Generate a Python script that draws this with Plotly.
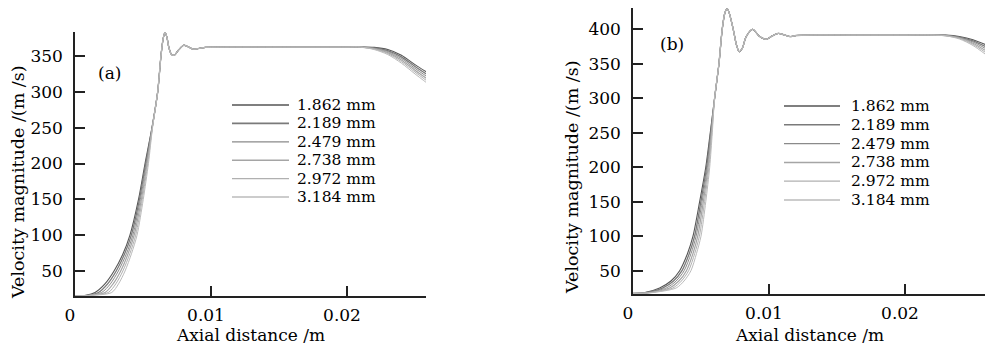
import plotly.graph_objects as go

# ---------------- data ----------------
labels = ["1.862 mm", "2.189 mm", "2.479 mm", "2.738 mm", "2.972 mm", "3.184 mm"]

# Panel (a): rising part, x position of each series at given velocity levels
a_rise_y = [15, 16, 20, 32, 50, 74, 100, 150, 200, 250]
a_rise_x = [
    [0, 0.00081, 0.00147, 0.00220, 0.00287, 0.00353, 0.00404, 0.00467, 0.00515, 0.00566],
    [0, 0.00088, 0.00172, 0.00240, 0.00303, 0.00365, 0.00414, 0.00474, 0.00520, 0.00567],
    [0, 0.00096, 0.00196, 0.00260, 0.00319, 0.00378, 0.00425, 0.00481, 0.00525, 0.00568],
    [0, 0.00103, 0.00221, 0.00280, 0.00336, 0.00390, 0.00435, 0.00488, 0.00530, 0.00568],
    [0, 0.00111, 0.00245, 0.00300, 0.00352, 0.00403, 0.00446, 0.00495, 0.00535, 0.00569],
    [0, 0.00118, 0.00270, 0.00320, 0.00368, 0.00415, 0.00456, 0.00502, 0.00540, 0.00570],
]
# Panel (a): common part (all series overlap)
a_core_x = [0.00608, 0.00632, 0.00648, 0.00662, 0.00676, 0.0069, 0.0071, 0.0073,
            0.0076, 0.0080, 0.0083, 0.0087, 0.0091, 0.0096, 0.011, 0.015, 0.020, 0.021]
a_core_y = [300, 350, 374, 383, 376, 362, 352, 351,
            358, 365, 363, 359.5, 360.5, 362, 362.5, 362.5, 362.5, 362.5]
# Panel (a): outlet tail
a_tail_x = [0.022, 0.023, 0.024, 0.025, 0.0259]
a_tail_y = [
    [362.0, 359.0, 351.0, 338.0, 327.0],
    [361.4, 357.6, 348.8, 335.4, 324.0],
    [360.8, 356.2, 346.6, 332.8, 321.0],
    [360.2, 354.8, 344.4, 330.2, 318.0],
    [359.6, 353.4, 342.2, 327.6, 315.0],
    [359.0, 352.0, 340.0, 325.0, 312.0],
]

# Panel (b)
b_rise_y = [17, 18, 25, 35, 50, 75, 100, 150, 200, 250]
b_rise_x = [
    [0, 0.00081, 0.00196, 0.00279, 0.00343, 0.00401, 0.00441, 0.00490, 0.00535, 0.00568],
    [0, 0.00091, 0.00220, 0.00298, 0.00360, 0.00414, 0.00453, 0.00499, 0.00541, 0.00571],
    [0, 0.00101, 0.00245, 0.00317, 0.00376, 0.00427, 0.00464, 0.00508, 0.00547, 0.00574],
    [0, 0.00112, 0.00269, 0.00337, 0.00393, 0.00441, 0.00476, 0.00517, 0.00552, 0.00577],
    [0, 0.00122, 0.00294, 0.00356, 0.00409, 0.00454, 0.00488, 0.00526, 0.00558, 0.00580],
    [0, 0.00132, 0.00318, 0.00375, 0.00426, 0.00467, 0.00500, 0.00535, 0.00564, 0.00583],
]
b_core_x = [0.0060, 0.00632, 0.00656, 0.00676, 0.00693, 0.0071, 0.00738, 0.0076, 0.00781,
            0.00805, 0.00831, 0.0088, 0.00929, 0.00978, 0.0102, 0.01068, 0.0111, 0.01154,
            0.012, 0.013, 0.016, 0.020, 0.022]
b_core_y = [300, 350, 400, 424, 430, 422, 399, 378, 367.5,
            373, 389, 400, 390, 385.5, 390, 394, 392, 389.5,
            391, 391.7, 391.7, 391.7, 391.7]
b_tail_x = [0.023, 0.024, 0.025, 0.0259]
b_tail_y = [
    [391.5, 389.5, 385.0, 378.0],
    [391.3, 388.8, 383.3, 375.2],
    [391.1, 388.1, 381.6, 372.4],
    [390.9, 387.4, 379.9, 369.6],
    [390.7, 386.7, 378.2, 366.8],
    [390.5, 386.0, 376.5, 364.0],
]

x_ticks = [0, 0.01, 0.02]
x_tick_text = ["0", "0.01", "0.02"]
a_y_ticks = [50, 100, 150, 200, 250, 300, 350]
b_y_ticks = [50, 100, 150, 200, 250, 300, 350, 400]

# ---------------- style ----------------
W, H = 985, 349
FONT = "DejaVu Serif"
TXT = "#000000"
colors = ["#555555", "#7a7a7a", "#8a8a8a", "#a5a5a5", "#b0b0b0", "#bbbbbb"]
widths = [1.1, 1.3, 1.0, 1.2, 1.0, 1.0]


def px_x(p):
    return p / W


def px_y(p):
    return 1 - p / H


fig = go.Figure()

for i in range(6):
    xs = a_rise_x[i] + a_core_x + a_tail_x
    ys = a_rise_y + a_core_y + a_tail_y[i]
    fig.add_trace(go.Scatter(x=xs, y=ys, mode="lines", name=labels[i],
                             line=dict(color=colors[i], width=widths[i], shape="spline", smoothing=0.8),
                             xaxis="x", yaxis="y", showlegend=False))
for i in range(6):
    xs = b_rise_x[i] + b_core_x + b_tail_x
    ys = b_rise_y + b_core_y + b_tail_y[i]
    fig.add_trace(go.Scatter(x=xs, y=ys, mode="lines", name=labels[i],
                             line=dict(color=colors[i], width=widths[i], shape="spline", smoothing=0.8),
                             xaxis="x2", yaxis="y2", showlegend=False))

axis_common = dict(showline=True, linecolor="#222", linewidth=1.5, ticks="inside",
                   ticklen=10, tickwidth=1.5, tickcolor="#222", showgrid=False,
                   zeroline=False, automargin=False,
                   tickfont=dict(family=FONT, size=17, color=TXT))

fig.update_layout(
    width=W, height=H, autosize=False,
    margin=dict(l=0, r=0, t=0, b=0),
    paper_bgcolor="white", plot_bgcolor="white",
    font=dict(family=FONT, size=17, color=TXT),
    xaxis=dict(domain=[px_x(75), px_x(426)], range=[0, 351 / 13600], anchor="y",
               tickvals=x_ticks, ticktext=x_tick_text, ticklabelstandoff=3, ticklabelshift=-5,
               **axis_common),
    yaxis=dict(domain=[px_y(296), px_y(32)], range=[15.1, 383.5], anchor="x",
               tickvals=a_y_ticks, ticklabelstandoff=7, **axis_common),
    xaxis2=dict(domain=[px_x(633), 1.0], range=[0, 352 / 13600], anchor="y2",
                tickvals=x_ticks, ticktext=x_tick_text, ticklabelstandoff=3, ticklabelshift=-5,
                **axis_common),
    yaxis2=dict(domain=[px_y(294), px_y(8)], range=[16.2, 430.9], anchor="x2",
                tickvals=b_y_ticks, ticklabelstandoff=7, **axis_common),
)

annotations = []
shapes = []
# axis titles
for cx in [(75 + 426) / 2, (633 + 985) / 2]:
    annotations.append(dict(text="Axial distance /m", x=px_x(cx), y=px_y(334), xref="paper", yref="paper",
                            xanchor="center", yanchor="middle", showarrow=False, height=19,
                            borderpad=0, font=dict(family=FONT, size=17, color=TXT)))
for cx, cy in [(18, 182), (572, 177)]:
    annotations.append(dict(text="Velocity magnitude /(m /s)", x=px_x(cx), y=px_y(cy), xref="paper",
                            yref="paper", xanchor="center", yanchor="middle", textangle=-90,
                            showarrow=False, font=dict(family=FONT, size=17.5, color=TXT)))
# panel tags
for txt, cx, cy in [("(a)", 109, 73), ("(b)", 672, 44)]:
    annotations.append(dict(text=txt, x=px_x(cx), y=px_y(cy), xref="paper", yref="paper",
                            xanchor="center", yanchor="middle", showarrow=False,
                            font=dict(family=FONT, size=17, color=TXT)))
# legends (key lines + labels)
for lx0, lx1, tx, ty0, step in [(232, 289, 296, 105, 18.4), (784, 840, 850, 106, 18.8)]:
    for i, lab in enumerate(labels):
        yy = px_y(ty0 + i * step)
        shapes.append(dict(type="line", xref="paper", yref="paper", x0=px_x(lx0), x1=px_x(lx1),
                           y0=yy, y1=yy, line=dict(color=colors[i], width=widths[i] + 0.3)))
        annotations.append(dict(text=lab, x=px_x(tx), y=yy, xref="paper", yref="paper",
                                xanchor="left", yanchor="middle", showarrow=False, height=16,
                                borderpad=0, font=dict(family=FONT, size=15.5, color=TXT)))

fig.update_layout(annotations=annotations, shapes=shapes)
fig.write_html("out.html", config={"displayModeBar": False},
               post_script="document.body.style.margin='0';document.body.style.overflow='hidden';")
